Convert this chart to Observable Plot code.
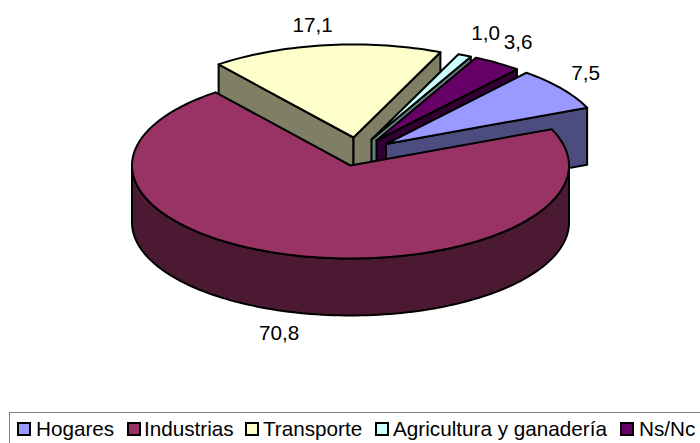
<!DOCTYPE html>
<html lang="es">
<head>
<meta charset="utf-8">
<script src="https://cdn.jsdelivr.net/npm/d3@7"></script>
<script src="https://cdn.jsdelivr.net/npm/@observablehq/plot@0.6"></script>
<style>
  html, body { margin: 0; padding: 0; background: #fff; overflow: hidden; width: 700px; height: 443px; }
  #legend {
    position: absolute; left: 9px; top: 412px; width: 800px; height: 60px; box-sizing: border-box;
    border: 1px solid #808080;
    font: 20.7px "Liberation Sans", Arial, sans-serif; color: #000; line-height: 24px;
  }
  #legend .item { position: absolute; top: 4px; display: flex; align-items: center; white-space: nowrap; }
  #legend .sw { width: 10px; height: 10px; border: 2px solid #000; display: block; }
</style>
</head>
<body>
<div id="chart"></div>
<div id="legend"></div>
<script>
const categories = ["Hogares", "Industrias", "Transporte", "Agricultura y ganadería", "Ns/Nc"];
const values = [7.5, 70.8, 17.1, 1.0, 3.6];
const labels = ["7,5", "70,8", "17,1", "1,0", "3,6"];
const topColors = ["#9999ff", "#993366", "#ffffcc", "#ccffff", "#660066"];
const sideColors = ["#4c4c7f", "#4c1933", "#7f7f66", "#667f7f", "#330033"];

// Layout of the tilted, exploded pie
const firstAngle = 40, rx = 218.5, ry = 93, depth = 57;
const centers = [[385.5, 143.5], [350, 165], [353, 137], [371, 139], [376, 140]];
const labelNudge = [[24, -15], [-17, 78], [-13, -20], [21, -22], [21, -21]];
const drawOrder = [2, 3, 4, 0, 1];
const legendLeft = [7, 117, 235, 365, 610];
const legendGap = [5, 3, 4, 4, 5];

const total = d3.sum(values);
let a = firstAngle;
const slices = values.map((v, i) => {
  const start = a, end = a + v / total * 360;
  a = end;
  return {i, start, end, cx: centers[i][0], cy: centers[i][1]};
});
const rad = d => d * Math.PI / 180;
const rim = (s, t, dz = 0) => ({x: s.cx + rx * Math.sin(rad(t)), y: s.cy - ry * Math.cos(rad(t)) + dz});
const arc = (s, t0, t1, dz = 0) => {
  const n = Math.max(2, Math.ceil(Math.abs(t1 - t0) / 1.5));
  return d3.range(n + 1).map(k => rim(s, t0 + (t1 - t0) * k / n, dz));
};
const poly = (pts, fill) => Plot.line([...pts, pts[0]], {
  x: "x", y: "y", fill, stroke: "#000", strokeWidth: 2, strokeLinejoin: "round", curve: "linear"
});

const marks = [];
for (const i of drawOrder) {
  const s = slices[i], side = sideColors[i], c = {x: s.cx, y: s.cy}, cb = {x: s.cx, y: s.cy + depth};
  const wall = t => poly([c, rim(s, t), rim(s, t, depth), cb], side);
  const nS = ((s.start % 360) + 360) % 360, nE = ((s.end % 360) + 360) % 360;
  if (nS > 180) marks.push(wall(s.start));
  if (nE < 180) marks.push(wall(s.end));
  const r0 = Math.max(s.start, 90), r1 = Math.min(s.end, 270);
  if (r1 > r0) marks.push(poly([...arc(s, r0, r1), ...arc(s, r1, r0, depth)], side));
  marks.push(poly([c, ...arc(s, s.start, s.end)], topColors[i]));
}
const labelData = slices.map(s => {
  const p = rim(s, (s.start + s.end) / 2);
  return {x: p.x + labelNudge[s.i][0], y: p.y + labelNudge[s.i][1], text: labels[s.i]};
});
marks.push(Plot.text(labelData, {x: "x", y: "y", text: "text", fontSize: 20.7, fill: "#000", textAnchor: "middle"}));

const plot = Plot.plot({
  width: 700, height: 405,
  margin: 0,
  x: {domain: [0, 700], range: [0, 700], axis: null},
  y: {domain: [0, 405], range: [0, 405], axis: null},
  style: {fontFamily: '"Liberation Sans", Arial, sans-serif', background: "#fff", display: "block"},
  marks
});
document.getElementById("chart").append(plot);

const legend = document.getElementById("legend");
categories.forEach((name, i) => {
  const item = document.createElement("span");
  item.className = "item";
  item.style.left = legendLeft[i] + "px";
  item.style.gap = legendGap[i] + "px";
  const sw = document.createElement("span");
  sw.className = "sw";
  sw.style.background = topColors[i];
  item.append(sw, document.createTextNode(name));
  legend.append(item);
});
</script>
</body>
</html>
